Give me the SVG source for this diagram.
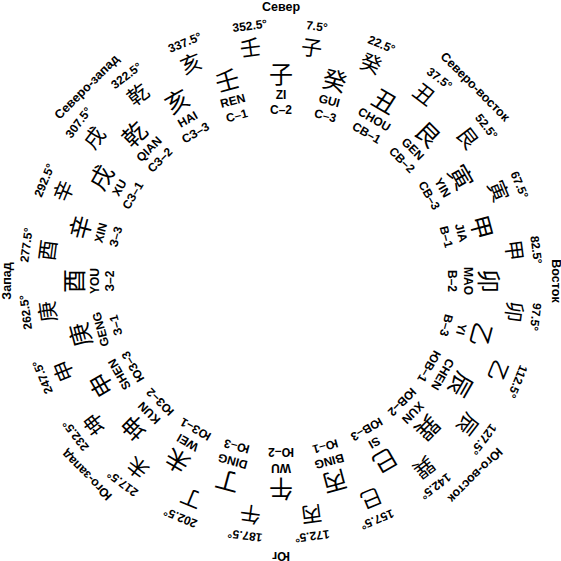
<svg xmlns="http://www.w3.org/2000/svg" width="561" height="561" viewBox="0 0 561 561">
<style>
text{text-anchor:middle;fill:#000}
.dir{font:bold 12.5px "Liberation Sans",Arial,sans-serif}
.deg{font:bold 12px "Liberation Sans",Arial,sans-serif}
.py{font:bold 12px "Liberation Sans",Arial,sans-serif}
.cd{font:bold 12px "Liberation Sans",Arial,sans-serif}
.oc{font-family:"Noto Sans CJK SC","Noto Sans CJK JP",sans-serif;font-size:21px}
.ic{font-family:"Noto Sans CJK SC","Noto Sans CJK JP",sans-serif;font-size:24px}
</style>
<rect width="561" height="561" fill="#fff"/>
<g id="directions">
<text class="dir" x="281" y="10.5">Север</text>
<text class="dir" transform="rotate(45 281 281)" x="281" y="10.5">Северо-восток</text>
<text class="dir" transform="rotate(90 281 281)" x="281" y="10.5">Восток</text>
<text class="dir" transform="rotate(135 281 281)" x="281" y="10.5">Юго-восток</text>
<text class="dir" transform="rotate(180 281 281)" x="281" y="10.5">Юг</text>
<text class="dir" transform="rotate(225 281 281)" x="281" y="10.5">Юго-запад</text>
<text class="dir" transform="rotate(270 281 281)" x="281" y="10.5">Запад</text>
<text class="dir" transform="rotate(315 281 281)" x="281" y="10.5">Северо-запад</text>
</g>
<g id="degrees">
<text class="deg" transform="rotate(7.5 281 281)" x="283.4" y="28">7.5°</text>
<text class="deg" transform="rotate(22.5 281 281)" x="283.4" y="28">22.5°</text>
<text class="deg" transform="rotate(37.5 281 281)" x="283.4" y="28">37.5°</text>
<text class="deg" transform="rotate(52.5 281 281)" x="283.4" y="28">52.5°</text>
<text class="deg" transform="rotate(67.5 281 281)" x="283.4" y="28">67.5°</text>
<text class="deg" transform="rotate(82.5 281 281)" x="283.4" y="28">82.5°</text>
<text class="deg" transform="rotate(97.5 281 281)" x="283.4" y="28">97.5°</text>
<text class="deg" transform="rotate(112.5 281 281)" x="283.4" y="28">112.5°</text>
<text class="deg" transform="rotate(127.5 281 281)" x="283.4" y="28">127.5°</text>
<text class="deg" transform="rotate(142.5 281 281)" x="283.4" y="28">142.5°</text>
<text class="deg" transform="rotate(157.5 281 281)" x="283.4" y="28">157.5°</text>
<text class="deg" transform="rotate(172.5 281 281)" x="283.4" y="28">172.5°</text>
<text class="deg" transform="rotate(187.5 281 281)" x="283.4" y="28">187.5°</text>
<text class="deg" transform="rotate(202.5 281 281)" x="283.4" y="28">202.5°</text>
<text class="deg" transform="rotate(217.5 281 281)" x="283.4" y="28">217.5°</text>
<text class="deg" transform="rotate(232.5 281 281)" x="283.4" y="28">232.5°</text>
<text class="deg" transform="rotate(247.5 281 281)" x="283.4" y="28">247.5°</text>
<text class="deg" transform="rotate(262.5 281 281)" x="283.4" y="28">262.5°</text>
<text class="deg" transform="rotate(277.5 281 281)" x="283.4" y="28">277.5°</text>
<text class="deg" transform="rotate(292.5 281 281)" x="283.4" y="28">292.5°</text>
<text class="deg" transform="rotate(307.5 281 281)" x="283.4" y="28">307.5°</text>
<text class="deg" transform="rotate(322.5 281 281)" x="283.4" y="28">322.5°</text>
<text class="deg" transform="rotate(337.5 281 281)" x="283.4" y="28">337.5°</text>
<text class="deg" transform="rotate(352.5 281 281)" x="283.4" y="28">352.5°</text>
</g>
<g id="m-zi"><g transform="rotate(0 281 281)"><text class="ic" x="281" y="82.5">子</text><text class="py" x="281" y="98.5">ZI</text><text class="cd" x="281" y="114">С–2</text></g><text class="oc" transform="rotate(7.5 281 281)" x="281" y="53.5">子</text></g>
<g id="m-gui"><g transform="rotate(15 281 281)"><text class="ic" x="281" y="82.5">癸</text><text class="py" x="281" y="98.5">GUI</text><text class="cd" x="281" y="114">С–3</text></g><text class="oc" transform="rotate(22.5 281 281)" x="281" y="53.5">癸</text></g>
<g id="m-chou"><g transform="rotate(30 281 281)"><text class="ic" x="281" y="82.5">丑</text><text class="py" x="281" y="98.5">CHOU</text><text class="cd" x="281" y="114">СВ–1</text></g><text class="oc" transform="rotate(37.5 281 281)" x="281" y="53.5">丑</text></g>
<g id="m-gen"><g transform="rotate(45 281 281)"><text class="ic" x="281" y="82.5">艮</text><text class="py" x="281" y="98.5">GEN</text><text class="cd" x="281" y="114">СВ–2</text></g><text class="oc" transform="rotate(52.5 281 281)" x="281" y="53.5">艮</text></g>
<g id="m-yin"><g transform="rotate(60 281 281)"><text class="ic" x="281" y="82.5">寅</text><text class="py" x="281" y="98.5">YIN</text><text class="cd" x="281" y="114">СВ–3</text></g><text class="oc" transform="rotate(67.5 281 281)" x="281" y="53.5">寅</text></g>
<g id="m-jia"><g transform="rotate(75 281 281)"><text class="ic" x="281" y="82.5">甲</text><text class="py" x="281" y="98.5">JIA</text><text class="cd" x="281" y="114">В–1</text></g><text class="oc" transform="rotate(82.5 281 281)" x="281" y="53.5">甲</text></g>
<g id="m-mao"><g transform="rotate(90 281 281)"><text class="ic" x="281" y="82.5">卯</text><text class="py" x="281" y="98.5">MAO</text><text class="cd" x="281" y="114">В–2</text></g><text class="oc" transform="rotate(97.5 281 281)" x="281" y="53.5">卯</text></g>
<g id="m-yi"><g transform="rotate(105 281 281)"><text class="ic" x="281" y="82.5">乙</text><text class="py" x="281" y="98.5">YI</text><text class="cd" x="281" y="114">В–3</text></g><text class="oc" transform="rotate(112.5 281 281)" x="281" y="53.5">乙</text></g>
<g id="m-chen"><g transform="rotate(120 281 281)"><text class="ic" x="281" y="82.5">辰</text><text class="py" x="281" y="98.5">CHEN</text><text class="cd" x="281" y="114">ЮВ–1</text></g><text class="oc" transform="rotate(127.5 281 281)" x="281" y="53.5">辰</text></g>
<g id="m-xun"><g transform="rotate(135 281 281)"><text class="ic" x="281" y="82.5">巽</text><text class="py" x="281" y="98.5">XUN</text><text class="cd" x="281" y="114">ЮВ–2</text></g><text class="oc" transform="rotate(142.5 281 281)" x="281" y="53.5">巽</text></g>
<g id="m-si"><g transform="rotate(150 281 281)"><text class="ic" x="281" y="82.5">巳</text><text class="py" x="281" y="98.5">SI</text><text class="cd" x="281" y="114">ЮВ–3</text></g><text class="oc" transform="rotate(157.5 281 281)" x="281" y="53.5">巳</text></g>
<g id="m-bing"><g transform="rotate(165 281 281)"><text class="ic" x="281" y="82.5">丙</text><text class="py" x="281" y="98.5">BING</text><text class="cd" x="281" y="114">Ю–1</text></g><text class="oc" transform="rotate(172.5 281 281)" x="281" y="53.5">丙</text></g>
<g id="m-wu"><g transform="rotate(180 281 281)"><text class="ic" x="281" y="82.5">午</text><text class="py" x="281" y="98.5">WU</text><text class="cd" x="281" y="114">Ю–2</text></g><text class="oc" transform="rotate(187.5 281 281)" x="281" y="53.5">午</text></g>
<g id="m-ding"><g transform="rotate(195 281 281)"><text class="ic" x="281" y="82.5">丁</text><text class="py" x="281" y="98.5">DING</text><text class="cd" x="281" y="114">Ю–3</text></g><text class="oc" transform="rotate(202.5 281 281)" x="281" y="53.5">丁</text></g>
<g id="m-wei"><g transform="rotate(210 281 281)"><text class="ic" x="281" y="82.5">未</text><text class="py" x="281" y="98.5">WEI</text><text class="cd" x="281" y="114">ЮЗ–1</text></g><text class="oc" transform="rotate(217.5 281 281)" x="281" y="53.5">未</text></g>
<g id="m-kun"><g transform="rotate(225 281 281)"><text class="ic" x="281" y="82.5">坤</text><text class="py" x="281" y="98.5">KUN</text><text class="cd" x="281" y="114">ЮЗ–2</text></g><text class="oc" transform="rotate(232.5 281 281)" x="281" y="53.5">坤</text></g>
<g id="m-shen"><g transform="rotate(240 281 281)"><text class="ic" x="281" y="82.5">申</text><text class="py" x="281" y="98.5">SHEN</text><text class="cd" x="281" y="114">ЮЗ–3</text></g><text class="oc" transform="rotate(247.5 281 281)" x="281" y="53.5">申</text></g>
<g id="m-geng"><g transform="rotate(255 281 281)"><text class="ic" x="281" y="82.5">庚</text><text class="py" x="281" y="98.5">GENG</text><text class="cd" x="281" y="114">З–1</text></g><text class="oc" transform="rotate(262.5 281 281)" x="281" y="53.5">庚</text></g>
<g id="m-you"><g transform="rotate(270 281 281)"><text class="ic" x="281" y="82.5">酉</text><text class="py" x="281" y="98.5">YOU</text><text class="cd" x="281" y="114">З–2</text></g><text class="oc" transform="rotate(277.5 281 281)" x="281" y="53.5">酉</text></g>
<g id="m-xin"><g transform="rotate(285 281 281)"><text class="ic" x="281" y="82.5">辛</text><text class="py" x="281" y="98.5">XIN</text><text class="cd" x="281" y="114">З–3</text></g><text class="oc" transform="rotate(292.5 281 281)" x="281" y="53.5">辛</text></g>
<g id="m-xu"><g transform="rotate(300 281 281)"><text class="ic" x="281" y="82.5">戌</text><text class="py" x="281" y="98.5">XU</text><text class="cd" x="281" y="114">СЗ–1</text></g><text class="oc" transform="rotate(307.5 281 281)" x="281" y="53.5">戌</text></g>
<g id="m-qian"><g transform="rotate(315 281 281)"><text class="ic" x="281" y="82.5">乾</text><text class="py" x="281" y="98.5">QIAN</text><text class="cd" x="281" y="114">СЗ–2</text></g><text class="oc" transform="rotate(322.5 281 281)" x="281" y="53.5">乾</text></g>
<g id="m-hai"><g transform="rotate(330 281 281)"><text class="ic" x="281" y="82.5">亥</text><text class="py" x="281" y="98.5">HAI</text><text class="cd" x="281" y="114">СЗ–3</text></g><text class="oc" transform="rotate(337.5 281 281)" x="281" y="53.5">亥</text></g>
<g id="m-ren"><g transform="rotate(345 281 281)"><text class="ic" x="281" y="82.5">壬</text><text class="py" x="281" y="98.5">REN</text><text class="cd" x="281" y="114">С–1</text></g><text class="oc" transform="rotate(352.5 281 281)" x="281" y="53.5">壬</text></g>
</svg>
